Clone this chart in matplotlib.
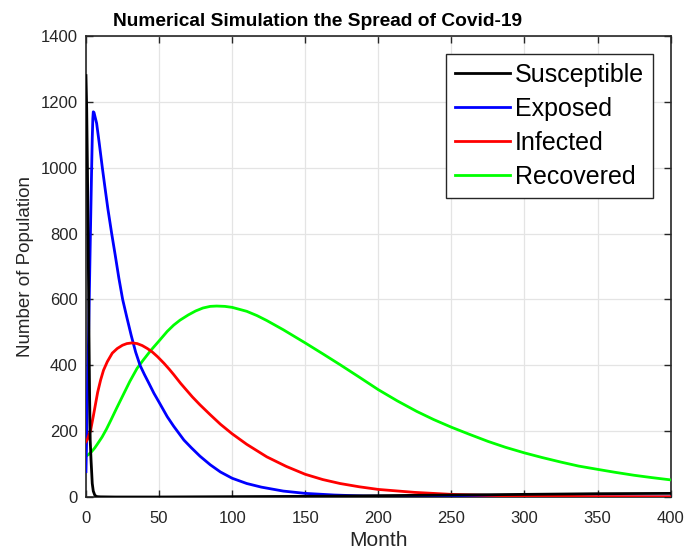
import matplotlib
matplotlib.use("Agg")
import matplotlib.pyplot as plt

# values (month, population)
t_s = [0, 0.5, 1, 1.5, 2, 2.5, 2.9, 3.5, 4.3, 5, 6, 7, 8, 10, 20, 50,
       100, 150, 200, 250, 300, 350, 400]
susceptible = [1280, 1180, 1000, 780, 520, 300, 173, 110, 41, 18, 6, 2, 1, 0.5, 0, 0,
               1, 2, 4, 6, 8, 10, 11]

t_e = [0, 1, 2, 3, 3.8, 4.3, 4.7, 5.0, 5.5, 6.2, 7.3, 9.1, 11.2, 13, 15, 17.6, 20, 22.5,
       25.1, 28, 31, 34, 37, 40, 43, 46.5, 50, 55.6, 60, 67, 72, 78, 85, 92, 100,
       110, 120, 135, 150, 170, 190, 220, 260, 320, 400]
exposed = [77, 300, 540, 790, 980, 1090, 1150, 1170, 1168, 1155, 1135, 1074, 1000, 940, 875, 800, 735, 665,
           600, 545, 490, 440, 400, 372, 346, 315, 288, 244, 215, 173, 150, 124, 98, 76, 57,
           41, 30, 18, 11, 6, 3, 1.5, 0.5, 0.2, 0]

t_i = [0, 1, 2, 3.2, 4, 5, 6.6, 8, 10, 12, 14.6, 18, 21.4, 25, 28, 31.5, 35, 38.5, 42,
       45.5, 49, 53.4, 57, 60, 64.8, 68.5, 72.8, 78, 85, 92, 100, 110, 123.7, 137, 150,
       162, 173.8, 187, 200, 225, 250, 275, 300, 350, 400]
infected = [168, 175, 188, 203, 222, 245, 284, 318, 355, 385, 411, 437, 451, 461, 466, 468, 466, 460, 451,
            440, 426, 406, 388, 372, 345, 326, 304, 280, 250, 221, 192, 160, 122, 93, 69,
            53, 41, 31, 23, 14, 8, 5, 3, 1, 0.5]

t_r = [0, 2, 4.1, 6, 7.7, 11, 14, 16.9, 21, 26, 30, 35, 39.2, 44.3, 50, 55.6, 60, 64.3,
       70, 75, 80, 85, 89.4, 95, 100, 110, 117, 123.7, 135, 150, 162, 173.8, 187, 200,
       213, 226.3, 238, 250, 262, 275, 287, 300, 312, 325, 337, 350, 362, 375, 387, 400]
recovered = [124, 130, 139, 149, 160, 182, 206, 232, 270, 315, 351, 391, 416, 445, 474, 503, 522, 537,
             553, 565, 574, 579, 580, 579, 576, 564, 551, 536, 508, 468, 435, 402, 364, 326,
             292, 260, 235, 212, 191, 169, 151, 134, 120, 106, 94, 84, 75, 66, 59, 52]

GRID_COLOR = "#e4e4e4"
AXIS_COLOR = "#262626"

plt.rcParams["font.family"] = ["Liberation Sans", "DejaVu Sans"]

fig = plt.figure(figsize=(6.85, 5.55), dpi=100)
ax = fig.add_axes([0.1255, 0.1045, 0.8535, 0.8305])

ax.plot(t_s, susceptible, color="black", lw=2, label="Susceptible", zorder=5)
ax.plot(t_e, exposed, color="#0000ff", lw=2, label="Exposed", zorder=4)
ax.plot(t_i, infected, color="#ff0000", lw=2, label="Infected", zorder=4)
ax.plot(t_r, recovered, color="#00ff00", lw=2, label="Recovered", zorder=3)

ax.set_xlim(0, 400)
ax.set_ylim(0, 1400)
ax.set_xticks(range(0, 401, 50))
ax.set_yticks(range(0, 1401, 200))
ax.grid(True, color=GRID_COLOR, lw=0.9)
ax.set_axisbelow(True)
ax.tick_params(direction="in", top=True, right=True, length=5, width=1,
               colors=AXIS_COLOR, labelsize=12)
ax.tick_params(axis="x", pad=10)
ax.tick_params(axis="y", pad=6)
for sp in ax.spines.values():
    sp.set_color(AXIS_COLOR)
    sp.set_linewidth(1.2)

ax.set_xlabel("Month", fontsize=15, color=AXIS_COLOR, labelpad=4)
ax.set_ylabel("Number of Population", fontsize=13.5, color=AXIS_COLOR, labelpad=5)
fig.text(0.464, 0.953, "Numerical Simulation the Spread of Covid-19", fontsize=13.8,
         fontweight="bold", ha="center", va="baseline")

leg = ax.legend(loc="upper right", bbox_to_anchor=(0.970, 0.961), fontsize=18,
                fancybox=False, framealpha=1, edgecolor=AXIS_COLOR,
                handlelength=2.2, handletextpad=0.2, labelspacing=0.4,
                borderpad=0.35, borderaxespad=0)
leg.get_frame().set_linewidth(1)

fig.savefig("out.png", dpi=100)
